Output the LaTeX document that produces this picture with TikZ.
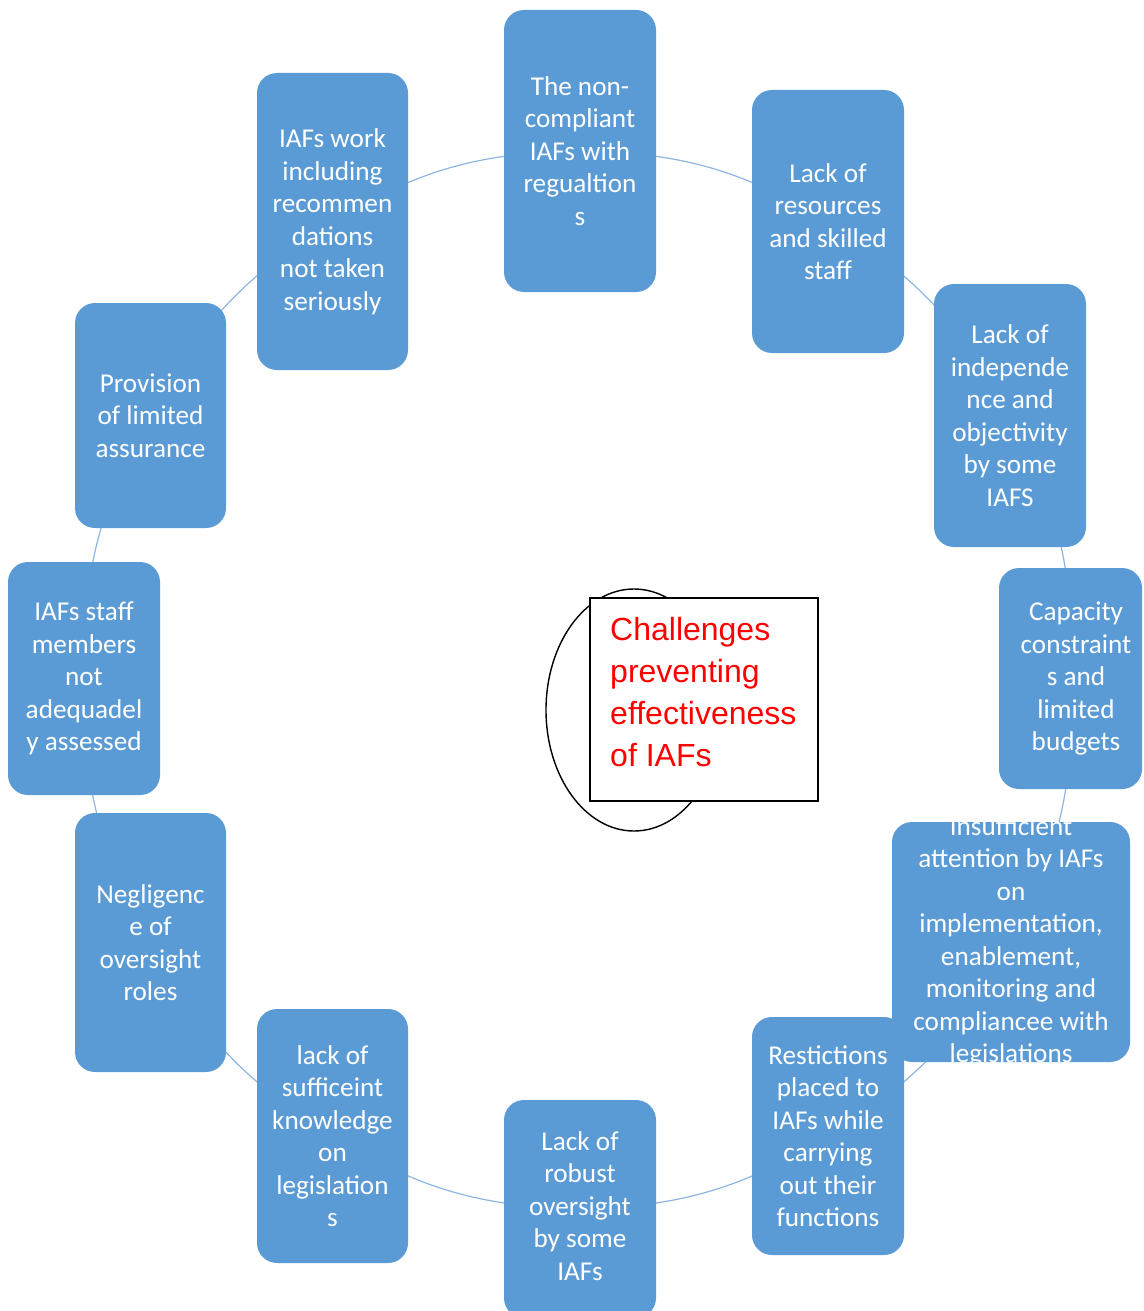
\documentclass[tikz,border=0pt]{standalone}
\usepackage{fontspec}
\usetikzlibrary{shapes.geometric}
\newfontfamily\calibfont{Carlito}
\newfontfamily\arialfont{Liberation Sans}
\definecolor{boxblue}{RGB}{91,155,213}
\definecolor{linkblue}{RGB}{140,182,226}
\pgfdeclarelayer{background}
\pgfsetlayers{background,main}
\tikzset{
  cbox/.style={rounded corners=20pt, fill=boxblue, draw=none, inner sep=0pt},
  ctext/.style={text=white, font=\calibfont\fontsize{27.2}{32.5}\selectfont, align=center, inner sep=0pt},
  link/.style={draw=linkblue, line width=1.2pt},
}
\begin{document}
\begin{tikzpicture}[x=1pt,y=-1pt]
\useasboundingbox (0,0) rectangle (1143,1311);
% boxes
\node[cbox, minimum width=152pt, minimum height=282pt] (b1) at (580,151) {};
\node[cbox, minimum width=152pt, minimum height=263pt] (b2) at (828,221.5) {};
\node[cbox, minimum width=152pt, minimum height=263pt] (b3) at (1010,415.5) {};
\node[cbox, minimum width=143pt, minimum height=221pt] (b4) at (1070.5,678.5) {};
\node[cbox, minimum width=238pt, minimum height=240pt] (b5) at (1011,942) {};
\node[cbox, minimum width=152pt, minimum height=238pt] (b6) at (828,1136) {};
\node[cbox, minimum width=152pt, minimum height=218pt] (b7) at (580,1209) {};
\node[cbox, minimum width=151pt, minimum height=254pt] (b8) at (332.5,1136) {};
\node[cbox, minimum width=151pt, minimum height=259pt] (b9) at (150.5,942.5) {};
\node[cbox, minimum width=152pt, minimum height=233pt] (b10) at (84,678.5) {};
\node[cbox, minimum width=151pt, minimum height=225pt] (b11) at (150.5,415.5) {};
\node[cbox, minimum width=151pt, minimum height=297pt] (b12) at (332.5,221.5) {};
% texts
\node[ctext] (t1) at (b1) {The non-\\compliant\\IAFs with\\regualtion\\s};
\node[ctext] (t2) at (b2) {Lack of\\resources\\and skilled\\staff};
\node[ctext] (t3) at (b3) {Lack of\\independe\\nce and\\objectivity\\by some\\IAFS};
\node[ctext] (t4) at (1076,678.5) {Capacity\\constraint\\s and\\limited\\budgets};
\node[ctext] (t5) at (b5) {Insufficient\\attention by IAFs\\on\\implementation,\\enablement,\\monitoring and\\compliancee with\\legislations};
\node[ctext] (t6) at (b6) {Restictions\\placed to\\IAFs while\\carrying\\out their\\functions};
\node[ctext] (t7) at (580,1206) {Lack of\\robust\\oversight\\by some\\IAFs};
\node[ctext] (t8) at (b8) {lack of\\sufficeint\\knowledge\\on\\legislation\\s};
\node[ctext] (t9) at (b9) {Negligenc\\e of\\oversight\\roles};
\node[ctext] (t10) at (b10) {IAFs staff\\members\\not\\adequadel\\y assessed};
\node[ctext] (t11) at (b11) {Provision\\of limited\\assurance};
\node[ctext] (t12) at (b12) {IAFs work\\including\\recommen\\dations\\not taken\\seriously};
% connectors (arcs of the cycle, behind the boxes)
\begin{pgfonlayer}{background}
\draw[link] (b1.center) to[bend left=15] (b2.center);
\draw[link] (b2.center) to[bend left=15] (b3.center);
\draw[link] (b3.center) to[bend left=15] (b4.center);
\draw[link] (b4.center) to[bend left=15] (b5.center);
\draw[link] (b5.center) to[bend left=15] (b6.center);
\draw[link] (b6.center) to[bend left=15] (b7.center);
\draw[link] (b7.center) to[bend left=15] (b8.center);
\draw[link] (b8.center) to[bend left=15] (b9.center);
\draw[link] (b9.center) to[bend left=15] (b10.center);
\draw[link] (b10.center) to[bend left=15] (b11.center);
\draw[link] (b11.center) to[bend left=15] (b12.center);
\draw[link] (b12.center) to[bend left=15] (b1.center);
\end{pgfonlayer}
% centre
\node[ellipse, draw=black, line width=1.4pt, minimum width=176pt, minimum height=242pt, inner sep=0pt] (ell) at (634,710) {};
\node[draw=black, line width=1.4pt, fill=white, minimum width=228pt, minimum height=203pt, inner sep=0pt] (ctr) at (704,699.5) {};
\node[anchor=north west, inner sep=0pt, align=left, text=red, font=\arialfont\fontsize{32}{42}\selectfont] (ctrtext) at (610,617) {Challenges\\preventing\\effectiveness\\of IAFs};
\end{tikzpicture}
\end{document}
